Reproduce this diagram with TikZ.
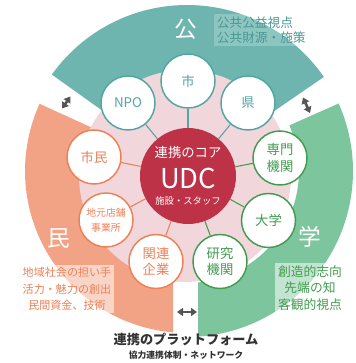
\documentclass[tikz,border=0pt]{standalone}
\usepackage{fontspec}
\setmainfont{Noto Sans CJK JP}
\usepackage{tikz}
\usetikzlibrary{positioning,arrows.meta}

\definecolor{kouRing}{RGB}{110,181,176}
\definecolor{kouLine}{RGB}{82,166,162}
\definecolor{kouText}{RGB}{72,152,148}
\definecolor{minRing}{RGB}{243,163,133}
\definecolor{minLine}{RGB}{238,128,86}
\definecolor{gakuRing}{RGB}{125,197,157}
\definecolor{gakuLine}{RGB}{66,156,80}
\definecolor{corePink}{RGB}{241,214,219}
\definecolor{coreRed}{RGB}{190,50,72}
\definecolor{arrowGray}{RGB}{85,85,85}
\definecolor{platGray}{RGB}{51,51,51}

\begin{document}
\begin{tikzpicture}[x=0.75pt,y=0.75pt,yscale=-1,xscale=1,
  sat/.style={circle,draw,fill=white,line width=1.1pt,minimum size=40.5pt,inner sep=0pt,align=center,font=\fontsize{10}{12.5}\selectfont},
  kousat/.style={sat,draw=kouLine,text=kouLine},
  minsat/.style={sat,draw=minLine,text=minLine},
  gakusat/.style={sat,draw=gakuLine,text=gakuLine},
  kouline/.style={draw=kouLine,line width=0.8pt},
  minline/.style={draw=minLine,line width=0.8pt},
  gakuline/.style={draw=gakuLine,line width=0.8pt},
  core/.style={circle,fill=coreRed,minimum size=72pt,inner sep=0pt},
  coretext/.style={text=white,inner sep=0pt},
  bigchar/.style={text=white,inner sep=0pt,font=\fontsize{17}{17}\selectfont},
  note/.style={fill=white,fill opacity=0.55,text opacity=1,inner sep=2pt,align=center},
  gaparrow/.style={draw=arrowGray,line width=2pt,{Triangle[length=4.5pt,width=6pt]}-{Triangle[length=4.5pt,width=6pt]}}
]
%uncomment if require: \path (0,363); %set diagram left start at 0, and has height of 363
\useasboundingbox (0,0) rectangle (355,363);
\fill[white] (0,0) rectangle (355,363);

%Shape: Arc [id:ring]
\begin{scope}[shift={(187,171)}]
% 公
\fill[kouRing] (-144.5:166) arc[start angle=-144.5,end angle=-34.5,radius=166] -- (-34.5:100) arc[start angle=-34.5,end angle=-144.5,radius=100] -- cycle;
% 民
\begin{scope}
\clip (-200,-200) rectangle (-14,200);
\fill[minRing] (90:162) arc[start angle=90,end angle=204.5,radius=162] -- (204.5:100) arc[start angle=204.5,end angle=90,radius=100] -- cycle;
\end{scope}
% 学
\begin{scope}
\clip (11,-200) rectangle (200,200);
\fill[gakuRing] (-24:166) arc[start angle=-24,end angle=90,radius=166] -- (90:112) arc[start angle=90,end angle=-24,radius=112] -- cycle;
\end{scope}
\end{scope}

%Shape: Circle [id:pink]
\fill[corePink] (185,176) circle[radius=106];

%Shape: Circle [id:udc]
\node[core] (udc) at (188,176) {};
\node[coretext,font=\fontsize{10}{12}\selectfont] (coretitle) at (188,152) {連携のコア};
\node[coretext,font=\fontsize{20.5}{24}\selectfont] (udcname) at (188,178) {UDC};
\node[coretext,font=\fontsize{7}{9}\selectfont] (corestaff) at (188,201) {施設・スタッフ};

%Shape: Circle [id:sat]
\node[kousat] (shi) at (188,81) {市};
\node[kousat] (npo) at (128,103) {NPO};
\node[kousat] (ken) at (248,103) {県};
\node[gakusat] (senmon) at (280,158) {専門\\機関};
\node[gakusat] (daigaku) at (268.5,220.5) {大学};
\node[gakusat] (kenkyu) at (220,261.5) {研究\\機関};
\node[minsat] (kanren) at (156,261.5) {関連\\企業};
\node[minsat,font=\fontsize{7.4}{11}\selectfont] (jimoto) at (106,220) {地元店舗\\事業所};
\node[minsat] (shimin) at (94,157) {市民};

%Straight Lines [id:links]
\draw[kouline] (udc) -- (shi);
\draw[kouline] (udc) -- (npo);
\draw[kouline] (udc) -- (ken);
\draw[gakuline] (udc) -- (senmon);
\draw[gakuline] (udc) -- (daigaku);
\draw[gakuline] (udc) -- (kenkyu);
\draw[minline] (udc) -- (kanren);
\draw[minline] (udc) -- (jimoto);
\draw[minline] (udc) -- (shimin);

%Text [id:sectors]
\node[bigchar] (kou) at (186,29) {公};
\node[bigchar] (min) at (59,238) {民};
\node[bigchar] (gaku) at (310,237) {学};

\node[note,fill opacity=0.22,text=kouText,align=left,anchor=west,font=\fontsize{9.5}{11.3}\selectfont] (kounote) at (214,30) {公共公益視点\\公共財源・施策};
\node[note,text=minLine,font=\fontsize{8.3}{12.4}\selectfont] (minnote) at (67,289) {地域社会の担い手\\活力・魅力の創出\\民間資金、技術};
\node[note,text=gakuLine,font=\fontsize{9.6}{12.4}\selectfont] (gakunote) at (310,288) {創造的志向\\先端の知\\客観的視点};

%Straight Lines [id:gaps]
\draw[gaparrow] (62,108.5) -- (70.5,96.5);
\draw[gaparrow] (303,97.5) -- (310,113);
\draw[gaparrow] (177,312) -- (197,312);

%Text [id:platform]
\node[text=platGray,font=\bfseries\fontsize{9.9}{12}\selectfont] (plat) at (186,339) {連携のプラットフォーム};
\node[text=platGray,font=\bfseries\fontsize{6.6}{8}\selectfont] (platsub) at (186,355) {協力連携体制・ネットワーク};

\end{tikzpicture}
\end{document}
